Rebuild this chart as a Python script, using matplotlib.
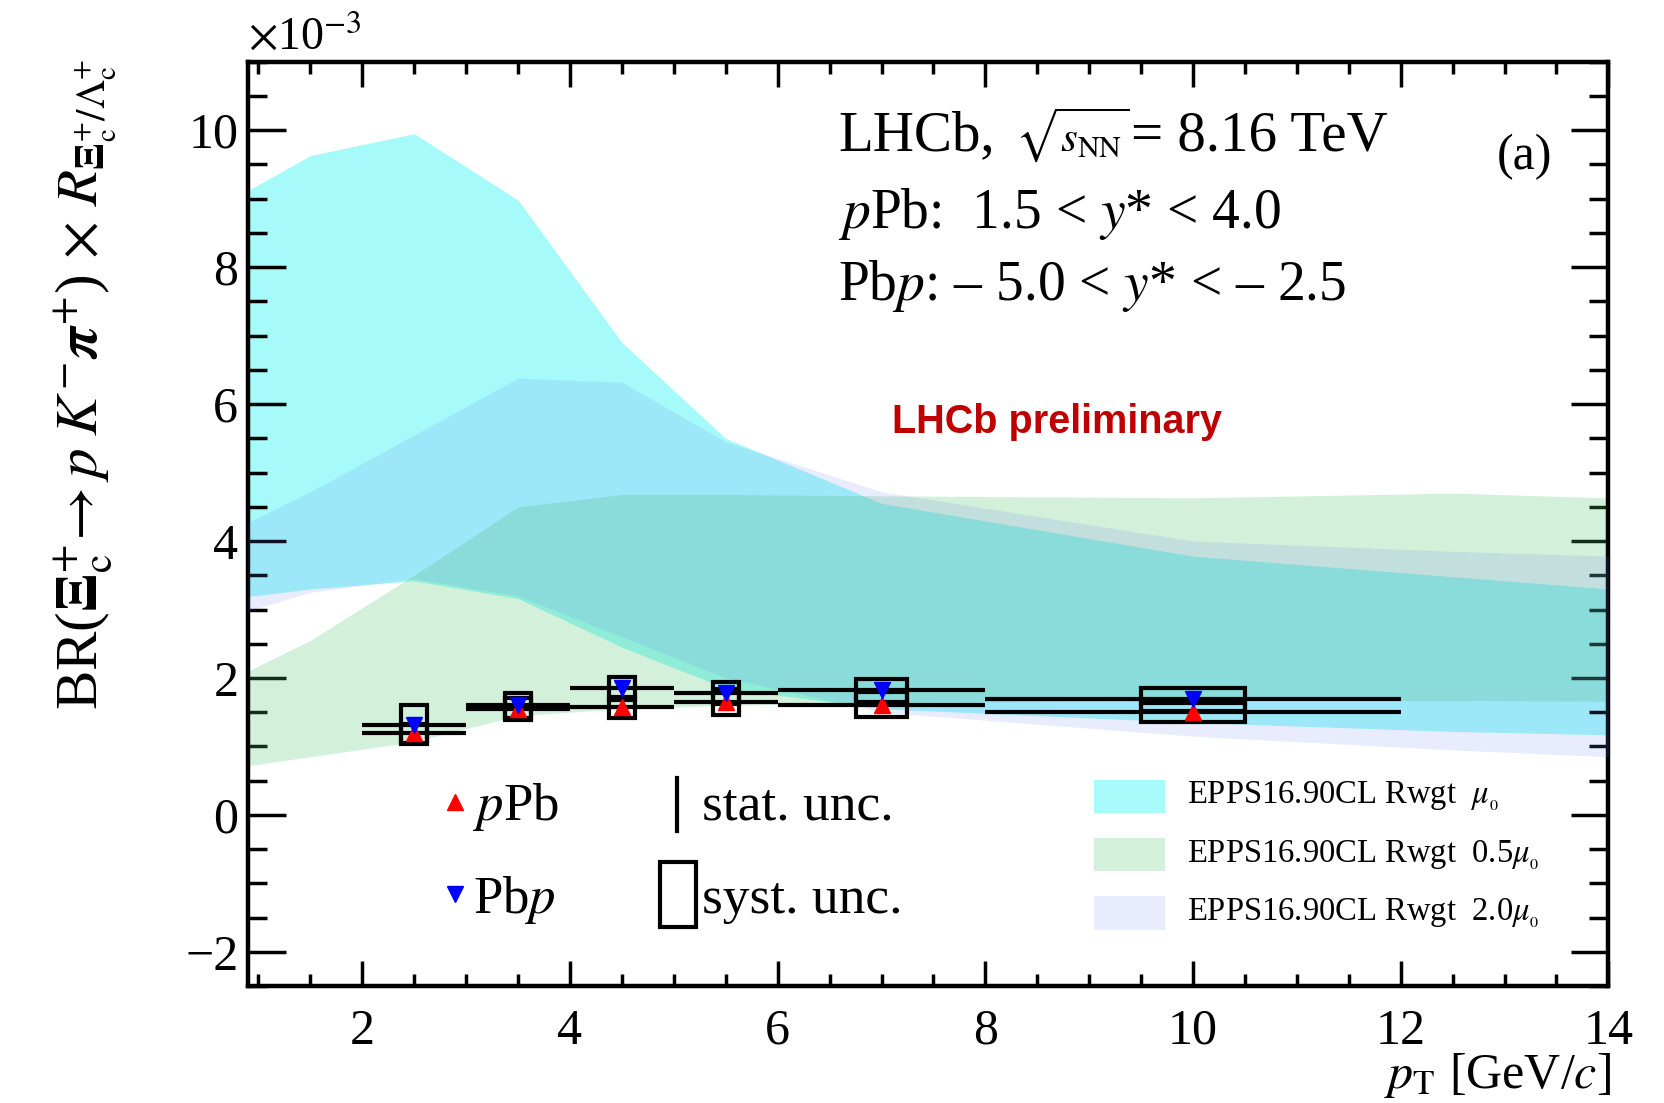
import numpy as np
import matplotlib.pyplot as plt
from matplotlib.patches import Rectangle

plt.rcParams['font.family'] = ['Liberation Serif', 'DejaVu Serif']
plt.rcParams['mathtext.fontset'] = 'stix'

# pT bins [GeV/c]
pt_lo = [2, 3, 4, 5, 6, 8]
pt_hi = [3, 4, 5, 6, 8, 12]
pt_mid = [2.5, 3.5, 4.5, 5.5, 7.0, 10.0]

# BR x R, in units of 1e-3
ppb_val = [1.19, 1.55, 1.57, 1.65, 1.61, 1.50]
ppb_stat = [0.05, 0.04, 0.05, 0.05, 0.05, 0.06]
ppb_syst = [0.14, 0.16, 0.15, 0.19, 0.18, 0.14]
pbp_val = [1.32, 1.60, 1.85, 1.78, 1.82, 1.69]
pbp_stat = [0.05, 0.04, 0.05, 0.05, 0.05, 0.06]
pbp_syst = [0.28, 0.18, 0.17, 0.16, 0.17, 0.17]

# EPPS16 reweighted predictions (90% CL bands)
band_pt = [0.9, 1.5, 2.5, 3.5, 4.5, 5.5, 7.0, 10.0, 12.5, 14.0]
mu0_lo = [3.19, 3.30, 3.42, 3.16, 2.45, 1.85, 1.55, 1.35, 1.22, 1.17]
mu0_hi = [9.12, 9.63, 9.95, 8.98, 6.90, 5.50, 4.55, 3.78, 3.48, 3.30]
half_lo = [0.72, 0.85, 1.07, 1.45, 1.55, 1.60, 1.64, 1.67, 1.67, 1.66]
half_hi = [2.10, 2.55, 3.50, 4.50, 4.68, 4.68, 4.66, 4.63, 4.70, 4.63]
two_lo = [2.98, 3.25, 3.45, 3.20, 2.60, 2.00, 1.50, 1.15, 0.95, 0.85]
two_hi = [4.27, 4.72, 5.55, 6.38, 6.32, 5.45, 4.72, 4.00, 3.85, 3.78]

c_mu0 = '#a6fbfa'
c_half = '#48c468'
c_two = '#6a80f0'
a_half = 0.24
a_two = 0.15

fig = plt.figure(figsize=(16.65, 11.03), dpi=100)
ax = fig.add_axes([0.149, 0.106, 0.817, 0.838])

ax.fill_between(band_pt, mu0_lo, mu0_hi, color=c_mu0, lw=0, zorder=1)
ax.fill_between(band_pt, half_lo, half_hi, color=c_half, alpha=a_half, lw=0, zorder=2)
ax.fill_between(band_pt, two_lo, two_hi, color=c_two, alpha=a_two, lw=0, zorder=3)

x = np.array(pt_mid)
xerr = [x - np.array(pt_lo), np.array(pt_hi) - x]
box_w = (np.array(pt_hi) - np.array(pt_lo)) / 4.0

for vals, stat, syst in [(ppb_val, ppb_stat, ppb_syst), (pbp_val, pbp_stat, pbp_syst)]:
    ax.errorbar(x, vals, xerr=xerr, yerr=stat, fmt='none', ecolor='black',
                elinewidth=3, capsize=0, zorder=5)
    for xc, w, v, s in zip(x, box_w, vals, syst):
        ax.add_patch(Rectangle((xc - w / 2, v - s), w, 2 * s, fill=False,
                               ec='black', lw=3, zorder=6))

ax.plot(x, ppb_val, ls='none', marker='^', ms=12, color='red', zorder=8)
ax.plot(x, pbp_val, ls='none', marker='v', ms=12, color='blue', zorder=8)

ax.set_xlim(0.9, 14.0)
ax.set_ylim(-2.5, 11.0)
ax.set_xticks([2, 4, 6, 8, 10, 12, 14])
ax.set_xticks(np.arange(1.0, 14.01, 0.5), minor=True)
ax.set_yticks([-2, 0, 2, 4, 6, 8, 10])
ax.set_yticks(np.arange(-2.5, 11.01, 0.5), minor=True)
ax.tick_params(axis='both', which='both', direction='in', top=True, right=True,
               width=2.5, labelsize=36)
ax.tick_params(axis='x', which='major', length=18, pad=16)
ax.tick_params(axis='x', which='minor', length=8.5)
ax.tick_params(axis='y', which='major', length=27, pad=7)
ax.tick_params(axis='y', which='minor', length=14)
ax.set_yticklabels(['\u22122', '0', '2', '4', '6', '8', '10'])
for sp in ax.spines.values():
    sp.set_linewidth(3.2)

ax.text(0.0, 1.004, r'$\times$10$^{-3}$', transform=ax.transAxes,
        ha='left', va='bottom', fontsize=33)
ax.text(1.002, -0.11, r'$p_{\rm T}$ [GeV/$c$]', transform=ax.transAxes,
        ha='right', va='baseline', fontsize=36)
fig.text(0.051, 0.947,
         r'BR($\boldsymbol{\Xi}_{\rm c}^{+}\!\rightarrow p\;K^{-}\boldsymbol{\pi}^{+}$)'
         r'$\,\times\, R_{\boldsymbol{\Xi}_{\rm c}^{+}/\Lambda_{\rm c}^{+}}$',
         rotation=90, ha='center', va='top', fontsize=42.5)

ax.text(0.434, 0.904, 'LHCb,', transform=ax.transAxes,
        ha='left', va='baseline', fontsize=41)
ax.text(0.564, 0.904, r'$\sqrt{s_{\rm NN}}$', transform=ax.transAxes,
        ha='left', va='baseline', fontsize=31)
ax.text(0.649, 0.904, '= 8.16 TeV', transform=ax.transAxes,
        ha='left', va='baseline', fontsize=41)
ax.text(0.434, 0.820, r'$p$Pb:  1.5 < $y$* < 4.0', transform=ax.transAxes,
        ha='left', va='baseline', fontsize=40)
ax.text(0.434, 0.742, 'Pb$p$: \u2013 5.0 < $y$* < \u2013 2.5', transform=ax.transAxes,
        ha='left', va='baseline', fontsize=40)
ax.text(0.918, 0.897, '(a)', transform=ax.transAxes, ha='left', va='center', fontsize=36)
ax.text(0.473, 0.61, 'LHCb preliminary', transform=ax.transAxes, ha='left', va='center',
        fontsize=28.5, color='#c00000', fontweight='bold', family='Liberation Sans')

# data legend
ax.plot([0.152], [0.199], marker='^', ms=12, color='red', transform=ax.transAxes)
ax.plot([0.152], [0.100], marker='v', ms=12, color='blue', transform=ax.transAxes)
ax.text(0.165, 0.194, r'$p$Pb', transform=ax.transAxes, ha='left', va='center', fontsize=38)
ax.text(0.165, 0.093, r'Pb$p$', transform=ax.transAxes, ha='left', va='center', fontsize=38)
ax.plot([0.315, 0.315], [0.168, 0.225], color='black', lw=3, transform=ax.transAxes)
ax.add_patch(Rectangle((0.303, 0.064), 0.026, 0.070, fill=False, ec='black', lw=3,
                       transform=ax.transAxes))
ax.text(0.334, 0.194, 'stat. unc.', transform=ax.transAxes, ha='left', va='center', fontsize=38.5)
ax.text(0.334, 0.093, 'syst. unc.', transform=ax.transAxes, ha='left', va='center', fontsize=38.5)

# model legend
leg_rows = [(0.205, c_mu0, 1.0, r'EPPS16.90CL Rwgt  $\mu_{_0}$'),
            (0.142, c_half, a_half, r'EPPS16.90CL Rwgt  0.5$\mu_{_0}$'),
            (0.079, c_two, a_two, r'EPPS16.90CL Rwgt  2.0$\mu_{_0}$')]
for yc, col, a, lab in leg_rows:
    ax.add_patch(Rectangle((0.622, yc - 0.018), 0.052, 0.036, color=col, alpha=a, lw=0,
                           transform=ax.transAxes))
    ax.text(0.690, yc, lab, transform=ax.transAxes, ha='left', va='center', fontsize=23.5)

fig.savefig('out.png', dpi=100)
